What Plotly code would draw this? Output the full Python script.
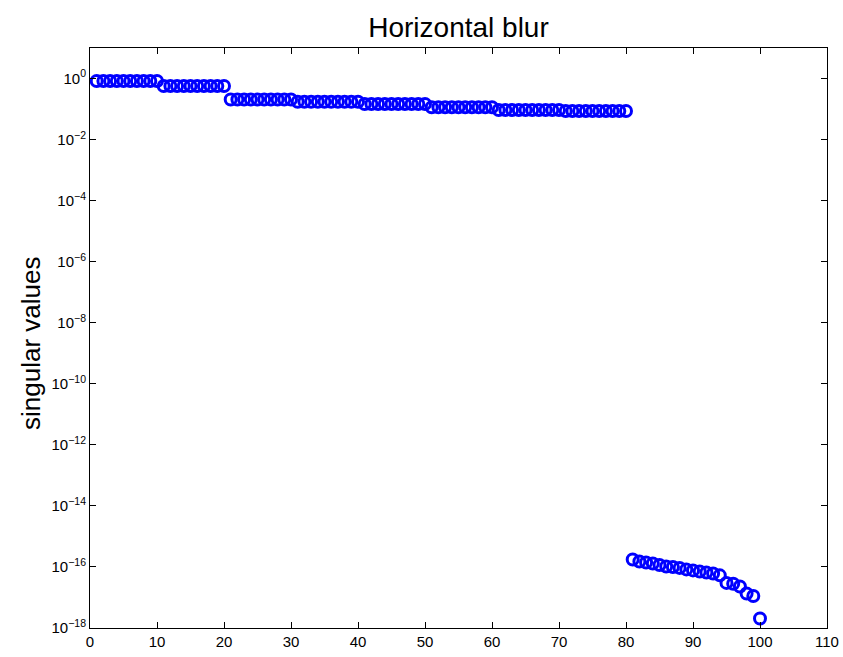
import plotly.graph_objects as go

# index of singular value
idx = list(range(1, 101))

# singular values
sv = [
    0.83, 0.83, 0.83, 0.83, 0.83, 0.83, 0.83, 0.83, 0.83, 0.83,
    0.57, 0.57, 0.57, 0.57, 0.57, 0.57, 0.57, 0.57, 0.57, 0.57,
    0.205, 0.205, 0.205, 0.205, 0.205, 0.205, 0.205, 0.205, 0.205, 0.205,
    0.174, 0.174, 0.174, 0.174, 0.174, 0.174, 0.174, 0.174, 0.174, 0.174,
    0.146, 0.146, 0.146, 0.146, 0.146, 0.146, 0.146, 0.146, 0.146, 0.146,
    0.114, 0.114, 0.114, 0.114, 0.114, 0.114, 0.114, 0.114, 0.114, 0.114,
    0.093, 0.093, 0.093, 0.093, 0.093, 0.093, 0.093, 0.093, 0.093, 0.093,
    0.086, 0.086, 0.086, 0.086, 0.086, 0.086, 0.086, 0.086, 0.086, 0.086,
    1.76e-16, 1.51e-16, 1.40e-16, 1.30e-16, 1.16e-16, 1.04e-16, 1.00e-16, 9.3e-17, 8.3e-17, 7.7e-17,
    7.1e-17, 6.6e-17, 6.1e-17, 5.3e-17, 3.0e-17, 2.8e-17, 2.3e-17, 1.35e-17, 1.12e-17, 2.05e-18,
]

x_ticks = [0, 10, 20, 30, 40, 50, 60, 70, 80, 90, 100, 110]
y_exps = [0, -2, -4, -6, -8, -10, -12, -14, -16, -18]

font_family = "Arial, Liberation Sans, Helvetica, sans-serif"

fig = go.Figure()
fig.add_trace(go.Scatter(
    x=idx, y=sv, mode="markers",
    marker=dict(symbol="circle-open", size=11, color="#0000FF",
                line=dict(width=3, color="#0000FF")),
    showlegend=False,
    cliponaxis=False,
))

fig.update_layout(
    width=843, height=657,
    margin=dict(l=90, r=16, t=48, b=29, autoexpand=False),
    paper_bgcolor="white", plot_bgcolor="white",
    font=dict(family=font_family, color="black", size=13),
    title=dict(text="Horizontal blur", x=(90 + 827) / 2 / 843, xanchor="center",
               y=1 - 27 / 657, yanchor="middle",
               font=dict(size=28, family=font_family, color="black")),
    xaxis=dict(range=[0, 110], tickvals=x_ticks, ticktext=[str(v) for v in x_ticks],
               ticks="inside", ticklen=6, tickcolor="black", tickwidth=1,
               showline=True, linecolor="black", linewidth=1, mirror="ticks",
               showgrid=False, zeroline=False, tickfont=dict(size=15),
               automargin=False),
    yaxis=dict(type="log", range=[-18, 1],
               tickvals=[10.0 ** e for e in y_exps],
               ticktext=["10<sup>%s</sup>" % (str(e) if e >= 0 else "\u2212" + str(-e)) for e in y_exps],
               ticks="inside", ticklen=6, tickcolor="black", tickwidth=1,
               showline=True, linecolor="black", linewidth=1, mirror="ticks",
               showgrid=False, zeroline=False, tickfont=dict(size=15),
               automargin=False),
    annotations=[dict(text="singular values", xref="paper", yref="paper",
                      x=0, y=0.5, xanchor="center", yanchor="middle",
                      xshift=-59, yshift=-6, textangle=-90, showarrow=False,
                      font=dict(size=26, family=font_family, color="black"))],
)

fig.write_html("out.html")
